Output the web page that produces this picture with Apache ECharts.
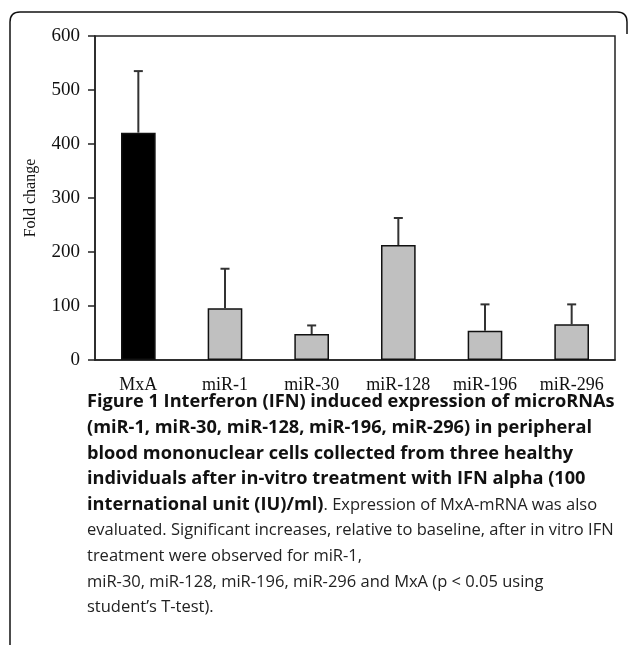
<!DOCTYPE html>
<html><head><meta charset="utf-8">
<script src="https://cdn.jsdelivr.net/npm/echarts@6/dist/echarts.min.js"></script>
<style>html,body{margin:0;padding:0;background:#fff}#c{width:628px;height:651px}</style>
</head><body><div id="c"></div>
<script>
const categories = ['MxA', 'miR-1', 'miR-30', 'miR-128', 'miR-196', 'miR-296'];
const foldChange = [421, 96, 48, 213, 54, 66];
const errorUpper = [535, 169, 64, 263, 103, 103];
const yTicks = [0, 100, 200, 300, 400, 500, 600];
const yAxisName = 'Fold change';
const captionBold = [
  'Figure 1 Interferon (IFN) induced expression of microRNAs',
  '(miR-1, miR-30, miR-128, miR-196, miR-296) in peripheral',
  'blood mononuclear cells collected from three healthy',
  'individuals after in-vitro treatment with IFN alpha (100'
];
const captionMixedBold = 'international unit (IU)/ml)';
const captionMixedRegular = '. Expression of MxA-mRNA was also';
const captionRegular = [
  'evaluated. Significant increases, relative to baseline, after in vitro IFN',
  'treatment were observed for miR-1,',
  'miR-30, miR-128, miR-196, miR-296 and MxA (p < 0.05 using',
  'student\u2019s T-test).'
];

const chart = echarts.init(document.getElementById('c'));
const serif = '"Liberation Serif", "Times New Roman", serif';
const sans = '"Open Sans", "Noto Sans", sans-serif';
const capX = 87, capY0 = 402, capDy = 25.7, boldSize = 18.2, regSize = 16.5;
const frameStyle = {fill: 'none', stroke: '#111', lineWidth: 1.5};

const graphics = [
  {type: 'polyline', shape: {points: [[10, 645], [10, 22]]}, style: frameStyle, silent: true},
  {type: 'bezierCurve', shape: {x1: 10, y1: 22, cpx1: 10, cpy1: 12, x2: 20, y2: 12}, style: frameStyle, silent: true},
  {type: 'polyline', shape: {points: [[20, 12], [617, 12]]}, style: frameStyle, silent: true},
  {type: 'bezierCurve', shape: {x1: 617, y1: 12, cpx1: 627, cpy1: 12, x2: 627, y2: 22}, style: frameStyle, silent: true},
  {type: 'polyline', shape: {points: [[627, 22], [627, 34]]}, style: frameStyle, silent: true}
];
captionBold.forEach((t, i) => graphics.push({type: 'text', x: capX, y: capY0 + i * capDy,
  style: {text: t, font: `bold ${boldSize}px ${sans}`, fill: '#111', textVerticalAlign: 'middle'}}));
graphics.push({type: 'text', x: capX, y: capY0 + 4 * capDy,
  style: {text: `{b|${captionMixedBold}}{r|${captionMixedRegular}}`, textVerticalAlign: 'middle',
    rich: {b: {fontWeight: 'bold', fontSize: boldSize, fontFamily: sans, fill: '#111', color: '#111'},
           r: {fontSize: regSize, fontFamily: sans, fill: '#222', color: '#222'}}}});
captionRegular.forEach((t, i) => graphics.push({type: 'text', x: capX, y: capY0 + (5 + i) * capDy,
  style: {text: t, font: `${regSize}px ${sans}`, fill: '#222', textVerticalAlign: 'middle'}}));

chart.setOption({
  animation: false,
  backgroundColor: '#fff',
  grid: {left: 95, right: 13, top: 36, bottom: 291, show: true, borderColor: '#222', borderWidth: 1.5},
  xAxis: {
    type: 'category', data: categories,
    axisLine: {lineStyle: {color: '#222', width: 1.5}},
    axisTick: {length: 6, lineStyle: {color: '#222', width: 1.5}},
    axisLabel: {interval: 0, color: '#111', fontFamily: serif, fontSize: 18, margin: 16}
  },
  yAxis: {
    type: 'value', min: yTicks[0], max: yTicks[yTicks.length - 1], interval: 100,
    name: yAxisName, nameLocation: 'middle', nameGap: 56, nameRotate: 90,
    nameTextStyle: {color: '#111', fontFamily: serif, fontSize: 16},
    axisLine: {show: true, lineStyle: {color: '#222', width: 1.5}},
    axisTick: {show: true, length: 7, lineStyle: {color: '#222', width: 1.5}},
    axisLabel: {color: '#111', fontFamily: serif, fontSize: 19, margin: 15},
    splitLine: {show: false}
  },
  series: [
    {
      type: 'bar', barWidth: '40%',
      data: foldChange.map((v, i) => ({value: v, itemStyle: {color: i === 0 ? '#000' : '#c0c0c0'}})),
      itemStyle: {borderColor: '#111', borderWidth: 1.5}
    },
    {
      type: 'custom',
      data: categories.map((c, i) => [i, foldChange[i], errorUpper[i]]),
      renderItem: function (params, api) {
        const base = api.coord([api.value(0), api.value(1)]);
        const top = api.coord([api.value(0), api.value(2)]);
        const half = 4.5;
        const s = {stroke: '#333', lineWidth: 2};
        return {type: 'group', children: [
          {type: 'line', shape: {x1: base[0], y1: base[1], x2: top[0], y2: top[1]}, style: s},
          {type: 'line', shape: {x1: top[0] - half, y1: top[1], x2: top[0] + half, y2: top[1]}, style: s}
        ]};
      },
      z: 3
    }
  ],
  graphic: graphics
});
</script></body></html>
